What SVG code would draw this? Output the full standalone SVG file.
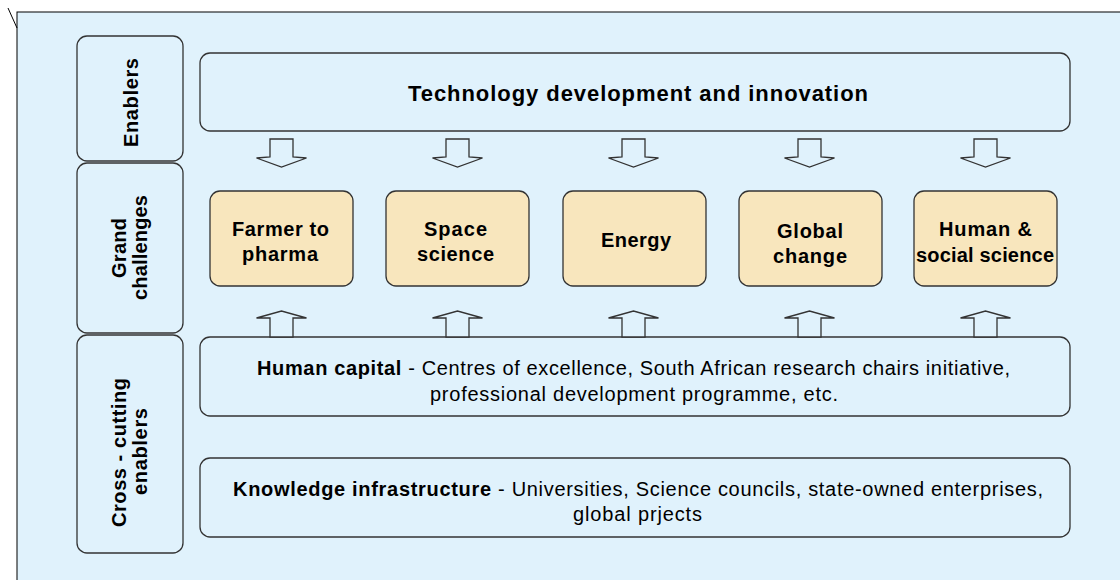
<svg xmlns="http://www.w3.org/2000/svg" width="1120" height="580" viewBox="0 0 1120 580">
<style>
.box{fill:#e0f2fc;stroke:#333;stroke-width:1.3}
.ch{fill:#f8e6bd;stroke:#333;stroke-width:1.3}
.arr{fill:#e0f2fc;stroke:#333;stroke-width:1.3;stroke-linejoin:miter}
text{font-family:"Liberation Sans",Arial,Helvetica,sans-serif;fill:#000;text-anchor:middle}
.b{font-weight:bold}
.t20{font-size:20px}
.t22{font-size:22px}
</style>
<defs>
<polygon id="down" points="-11.5,0 11.5,0 11.5,18 25,19 0,28 -25,19 -11.5,18"/>
<polygon id="up" points="-11.5,26 11.5,26 11.5,7 25,7 0,0 -25,7 -11.5,7"/>
</defs>
<rect x="0" y="0" width="1120" height="580" fill="#fff"/>
<rect x="17" y="12" width="1110" height="580" fill="#e0f2fc" stroke="#000" stroke-width="1"/>
<line x1="8" y1="8" x2="17" y2="28" stroke="#000" stroke-width="1"/>

<g id="label-enablers">
<rect class="box" x="77" y="36" width="106" height="125" rx="10"/>
<text class="b t20" transform="translate(138,102.5) rotate(-90)" textLength="89" lengthAdjust="spacing">Enablers</text>
</g>
<g id="label-grand">
<rect class="box" x="77" y="163" width="106" height="170" rx="10"/>
<text class="b t20" transform="translate(126,248) rotate(-90)" textLength="60" lengthAdjust="spacing">Grand</text>
<text class="b t20" transform="translate(147,247.5) rotate(-90)" textLength="105" lengthAdjust="spacing">challenges</text>
</g>
<g id="label-cross">
<rect class="box" x="77" y="335" width="106" height="218" rx="10"/>
<text class="b t20" transform="translate(126,452.5) rotate(-90)" textLength="149" lengthAdjust="spacing">Cross - cutting</text>
<text class="b t20" transform="translate(147,451.5) rotate(-90)" textLength="87" lengthAdjust="spacing">enablers</text>
</g>

<g id="tech">
<rect class="box" x="200" y="53" width="870" height="78" rx="10"/>
<text class="b t22" x="638" y="101" textLength="460" lengthAdjust="spacing">Technology development and innovation</text>
</g>

<g id="farmer">
<rect class="ch" x="210" y="191" width="143" height="95" rx="10"/>
<text class="b t20" x="280.5" y="236" textLength="97" lengthAdjust="spacing">Farmer to</text>
<text class="b t20" x="280" y="261" textLength="76" lengthAdjust="spacing">pharma</text>
</g>
<g id="space">
<rect class="ch" x="386" y="191" width="143" height="95" rx="10"/>
<text class="b t20" x="455.5" y="236" textLength="63" lengthAdjust="spacing">Space</text>
<text class="b t20" x="455.5" y="261" textLength="77" lengthAdjust="spacing">science</text>
</g>
<g id="energy">
<rect class="ch" x="563" y="191" width="143" height="95" rx="10"/>
<text class="b t20" x="636" y="247" textLength="70" lengthAdjust="spacing">Energy</text>
</g>
<g id="global">
<rect class="ch" x="739" y="191" width="143" height="95" rx="10"/>
<text class="b t20" x="810" y="238" textLength="66" lengthAdjust="spacing">Global</text>
<text class="b t20" x="810" y="263" textLength="74" lengthAdjust="spacing">change</text>
</g>
<g id="human-social">
<rect class="ch" x="914" y="191" width="143" height="95" rx="10"/>
<text class="b t20" x="985.5" y="236" textLength="93" lengthAdjust="spacing">Human &amp;</text>
<text class="b t20" x="985" y="262" textLength="138" lengthAdjust="spacing">social science</text>
</g>

<g id="human-capital">
<rect class="box" x="200" y="337" width="870" height="79" rx="10"/>
<text class="t20" x="633.5" y="375" textLength="753" lengthAdjust="spacing"><tspan class="b">Human capital</tspan> - Centres of excellence, South African research chairs initiative,</text>
<text class="t20" x="634" y="401" textLength="408" lengthAdjust="spacing">professional development programme, etc.</text>
</g>
<g id="knowledge">
<rect class="box" x="200" y="458" width="870" height="79" rx="10"/>
<text class="t20" x="638" y="496" textLength="810" lengthAdjust="spacing"><tspan class="b">Knowledge infrastructure</tspan> - Universities, Science councils, state-owned enterprises,</text>
<text class="t20" x="637.5" y="521" textLength="129" lengthAdjust="spacing">global prjects</text>
</g>

<g id="connectors">
<use href="#down" class="arr" x="281.5" y="139"/>
<use href="#down" class="arr" x="457.5" y="139"/>
<use href="#down" class="arr" x="633.5" y="139"/>
<use href="#down" class="arr" x="809.5" y="139"/>
<use href="#down" class="arr" x="985.5" y="139"/>
<use href="#up" class="arr" x="281.5" y="311"/>
<use href="#up" class="arr" x="457.5" y="311"/>
<use href="#up" class="arr" x="633.5" y="311"/>
<use href="#up" class="arr" x="809.5" y="311"/>
<use href="#up" class="arr" x="985.5" y="311"/>
</g>
</svg>
